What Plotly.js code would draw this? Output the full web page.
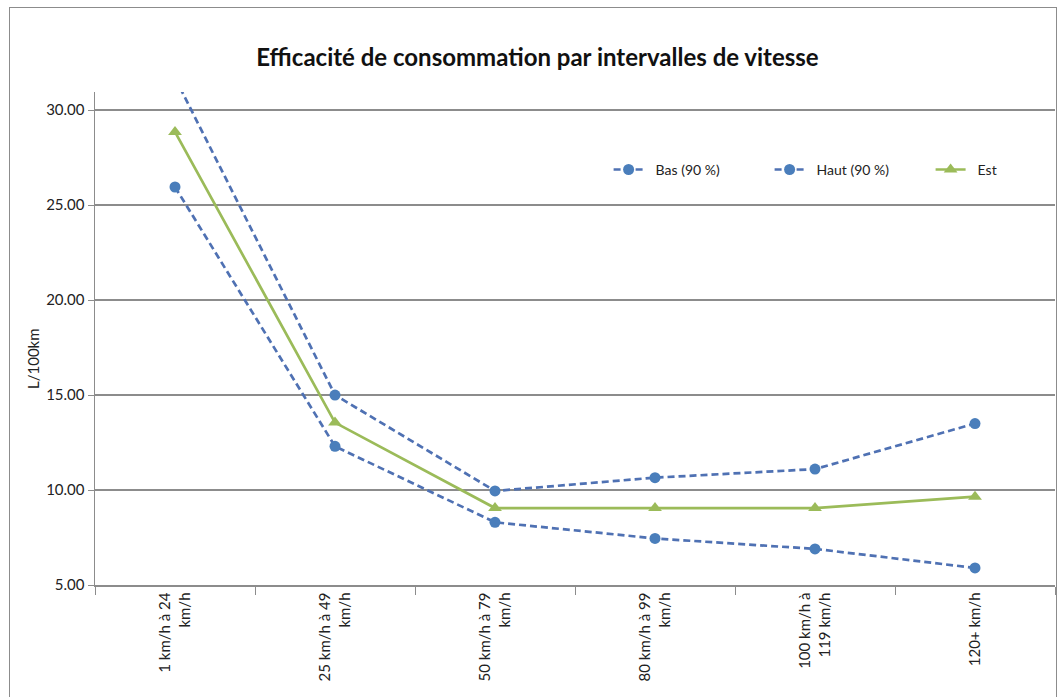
<!DOCTYPE html>
<html>
<head>
<meta charset="utf-8">
<script src="https://cdn.plot.ly/plotly-3.0.1.min.js"></script>
<style>
  html, body { margin: 0; padding: 0; background: #fff; overflow: hidden; }
  #chart { width: 1058px; height: 697px; }
  #frame { position: absolute; left: 9px; top: 7px; width: 1046px; height: 700px; border: 1px solid #8c8c8c; pointer-events: none; }
</style>
</head>
<body>
<div id="chart"></div>
<div id="frame"></div>
<script>
const categories = [
  "1 km/h à 24<br>km/h",
  "25 km/h à 49<br>km/h",
  "50 km/h à 79<br>km/h",
  "80 km/h à 99<br>km/h",
  "100 km/h à<br>119 km/h",
  "120+ km/h"
];
const bas  = [25.95, 12.3, 8.3, 7.45, 6.9, 5.9];
const haut = [31.7, 15.0, 9.95, 10.65, 11.1, 13.5];
const est  = [28.85, 13.55, 9.05, 9.05, 9.05, 9.65];
const yTicks = [5, 10, 15, 20, 25, 30];
const seriesNames = ['Bas (90 %)', 'Haut (90 %)', 'Est'];

const blue = '#4A7EBB';
const blueLine = '#4F71B3';
const green = '#9BBB59';
const FONT = 'Lato, "Open Sans", sans-serif';

const traces = [
  { x: categories, y: bas, name: '\u2002' + seriesNames[0], type: 'scatter', mode: 'lines+markers',
    line: { color: blueLine, width: 2.7, dash: '7px,4px' },
    marker: { color: blue, size: 11, symbol: 'circle' } },
  { x: categories, y: haut, name: '\u2002' + seriesNames[1], type: 'scatter', mode: 'lines+markers',
    line: { color: blueLine, width: 2.7, dash: '7px,4px' },
    marker: { color: blue, size: 11, symbol: 'circle' } },
  { x: categories, y: est, name: '\u2002' + seriesNames[2], type: 'scatter', mode: 'lines+markers',
    line: { color: green, width: 2.7 },
    marker: { color: green, size: 12, symbol: 'triangle-up' } }
];

const layout = {
  width: 1058, height: 697,
  margin: { l: 95, r: 3, t: 92, b: 112, autoexpand: false },
  paper_bgcolor: '#fff', plot_bgcolor: '#fff',
  font: { family: FONT, size: 15, color: '#222' },
  title: { text: '<b>Efficacité de consommation par intervalles de vitesse</b>',
           font: { family: FONT, size: 24, color: '#111' },
           x: 0.508, xanchor: 'center', y: 0.917, yanchor: 'middle' },
  showlegend: true,
  legend: { orientation: 'h', x: 0.535, xanchor: 'left', y: 0.842, yanchor: 'middle',
            font: { family: FONT, size: 14, color: '#222' }, entrywidth: 116, entrywidthmode: 'pixels',
            bgcolor: 'rgba(0,0,0,0)', traceorder: 'normal' },
  xaxis: {
    type: 'category', range: [-0.5, 5.5], tickangle: -90, tickson: 'boundaries',
    ticks: 'outside', ticklen: 8, tickcolor: '#8c8c8c',
    showline: true, linecolor: '#8c8c8c', linewidth: 1.5,
    showgrid: false, zeroline: false,
    tickfont: { family: FONT, size: 15, color: '#222' }, automargin: false
  },
  yaxis: {
    range: [5, 30.95], tickvals: yTicks, tickformat: '.2f',
    ticks: 'outside', ticklen: 6, tickcolor: '#8c8c8c',
    showline: true, linecolor: '#8c8c8c', linewidth: 1.5,
    showgrid: true, gridcolor: '#8c8c8c', gridwidth: 1.2, zeroline: false,
    tickfont: { family: FONT, size: 15, color: '#222' },
    automargin: false
  },
  annotations: [
    { text: 'L/100km', xref: 'paper', yref: 'paper', x: (33 - 95) / 960, y: (585 - 358) / 493,
      xanchor: 'center', yanchor: 'middle', textangle: -90, showarrow: false,
      font: { family: FONT, size: 15, color: '#222' } }
  ]
};

Plotly.newPlot('chart', traces, layout, { displayModeBar: false, staticPlot: true });
</script>
</body>
</html>
